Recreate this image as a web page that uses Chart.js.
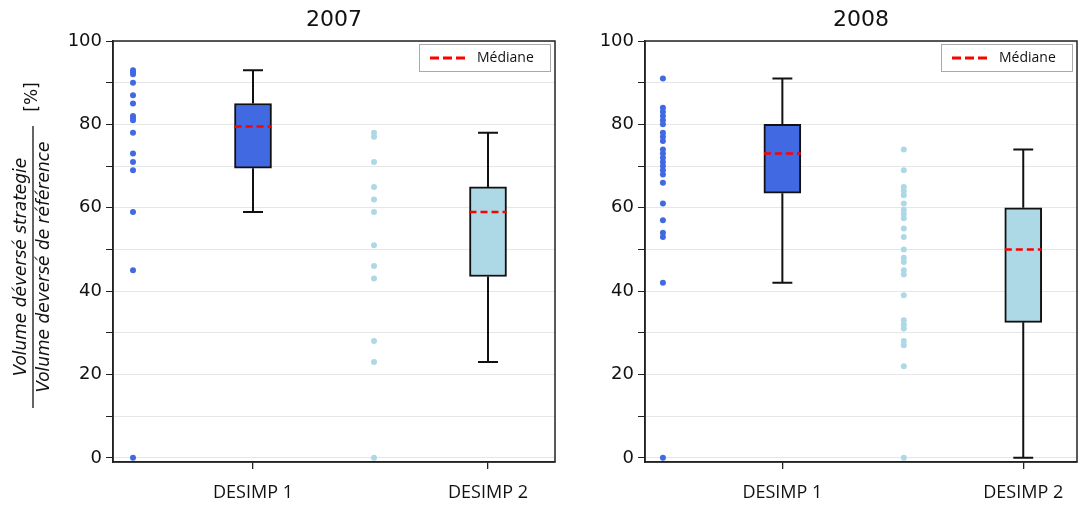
<!DOCTYPE html>
<html>
<head>
<meta charset="utf-8">
<script src="https://cdn.jsdelivr.net/npm/chart.js@4/dist/chart.umd.min.js"></script>
<style>
  html, body { margin: 0; padding: 0; background: #fff; }
  #wrap { position: relative; width: 1081px; height: 507px; }
  .pane { position: absolute; top: 0; }
</style>
</head>
<body>
<div id="wrap">
  <div class="pane" style="left:0"><canvas id="c2007" width="560" height="507"></canvas></div>
  <div class="pane" style="left:560px"><canvas id="c2008" width="521" height="507"></canvas></div>
</div>
<script>
// ==== DATA ====
const CATEGORIES = ['DESIMP 1', 'DESIMP 2'];
const Y_TICKS = [0, 10, 20, 30, 40, 50, 60, 70, 80, 90, 100];
const LEGEND_LABEL = 'Médiane';

// individual points
const pts2007D1 = [93, 92.5, 92, 90, 87, 85, 82, 81.5, 81, 78, 73, 71, 69, 59, 45, 0];
const pts2007D2 = [78, 77, 71, 65, 62, 59, 51, 46, 43, 28, 23, 0];
const pts2008D1 = [91, 84, 83, 82, 81, 80, 78, 77, 76, 74, 73, 72, 71, 70, 69, 68, 66, 61, 57, 54, 53, 42, 0];
const pts2008D2 = [74, 69, 65, 64, 63, 61, 59.5, 58.5, 57.5, 55, 53, 50, 48, 47, 45, 44, 39, 33, 32, 31, 28, 27, 22, 0];

// boxes: whisker low, q1, median, q3, whisker high
const box2007D1 = [59, 69.5, 79.5, 85, 93];
const box2007D2 = [23, 43.5, 59, 65, 78];
const box2008D1 = [42, 63.5, 73, 80, 91];
const box2008D2 = [0, 32.5, 50, 60, 74];

// colours
const C_D1 = '#4169E1';
const C_D2 = '#ADD8E6';
const C_MED = '#FF0000';

// Plugin : frame, title, legend, y label
const decor = {
  id: 'decor',
  afterDatasetsDraw(chart) {
    const a = chart.chartArea, ctx = chart.ctx;
    ctx.save();
    ctx.strokeStyle = '#222';
    ctx.lineWidth = 1.5;
    ctx.strokeRect(a.left, a.top, a.right - a.left, a.bottom - a.top);
    ctx.restore();
  },
  afterDraw(chart, args, o) {
    const a = chart.chartArea, ctx = chart.ctx;
    ctx.save();
    // title
    ctx.fillStyle = '#111';
    ctx.font = '22px "DejaVu Sans"';
    ctx.textAlign = 'center';
    ctx.textBaseline = 'middle';
    ctx.fillText(o.title, (a.left + a.right) / 2, 20);

    // legend box
    const w = 131, h = 27, bx = a.right - 5 - w, by = a.top + 3;
    ctx.fillStyle = '#fff';
    ctx.fillRect(bx, by, w, h);
    ctx.strokeStyle = '#aaa';
    ctx.lineWidth = 1;
    ctx.strokeRect(bx + 0.5, by + 0.5, w, h);
    ctx.strokeStyle = C_MED;
    ctx.lineWidth = 3;
    ctx.setLineDash([9, 4]);
    ctx.beginPath();
    ctx.moveTo(bx + 11, by + h / 2 + 0.5);
    ctx.lineTo(bx + 49, by + h / 2 + 0.5);
    ctx.stroke();
    ctx.setLineDash([]);
    ctx.fillStyle = '#111';
    ctx.font = '14px "Open Sans"';
    ctx.textAlign = 'left';
    ctx.fillText(LEGEND_LABEL, bx + 58, by + h / 2 + 1);

    // y label (fraction)
    if (o.ylabel) {
      ctx.translate(33, 267);
      ctx.rotate(-Math.PI / 2);
      ctx.fillStyle = '#111';
      ctx.font = 'italic 17px "DejaVu Sans"';
      ctx.textAlign = 'center';
      ctx.textBaseline = 'bottom';
      ctx.fillText('Volume déversé strategie', 0, -3);
      ctx.textBaseline = 'top';
      ctx.fillText('Volume deversé de référence', 0, 3);
      ctx.strokeStyle = '#111';
      ctx.lineWidth = 1.3;
      ctx.beginPath();
      ctx.moveTo(-141, 0);
      ctx.lineTo(141, 0);
      ctx.stroke();
      ctx.font = '17px "DejaVu Sans"';
      ctx.textBaseline = 'middle';
      ctx.fillText('[%]', 170, 0);
    }
    ctx.restore();
  }
};

function buildChart(id, cfg) {
  const unit = cfg.unit;           // px per x unit
  const cap = 10 / unit, half = 18.5 / unit;
  const boxes = [cfg.box1, cfg.box2];

  const whiskers = [], medians = [];
  boxes.forEach((b, i) => {
    const x = i + 1;
    whiskers.push({x, y: b[3]}, {x, y: b[4]}, {x, y: null});
    whiskers.push({x, y: b[1]}, {x, y: b[0]}, {x, y: null});
    whiskers.push({x: x - cap, y: b[4]}, {x: x + cap, y: b[4]}, {x, y: null});
    whiskers.push({x: x - cap, y: b[0]}, {x: x + cap, y: b[0]}, {x, y: null});
    medians.push({x: x - half, y: b[2]}, {x: x + half, y: b[2]}, {x, y: null});
  });

  return new Chart(document.getElementById(id), {
    type: 'scatter',
    data: {
      datasets: [
        { type: 'scatter', data: cfg.pts1.map(v => ({x: cfg.sx1, y: v})),
          backgroundColor: C_D1, borderWidth: 0, pointRadius: 3, order: 4 },
        { type: 'scatter', data: cfg.pts2.map(v => ({x: cfg.sx2, y: v})),
          backgroundColor: C_D2, borderWidth: 0, pointRadius: 3, order: 4 },
        { type: 'line', data: whiskers, borderColor: '#111', borderWidth: 2,
          pointRadius: 0, spanGaps: false, fill: false, order: 3 },
        { type: 'bar', data: boxes.map((b, i) => ({x: i + 1, y: [b[1], b[3]]})),
          backgroundColor: [C_D1, C_D2], borderColor: '#111', borderWidth: 2,
          borderSkipped: false, barThickness: 37, grouped: false, order: 2 },
        { type: 'line', data: medians, borderColor: C_MED, borderWidth: 2.5,
          borderDash: [7, 4], pointRadius: 0, spanGaps: false, fill: false, order: 1 }
      ]
    },
    options: {
      responsive: false,
      animation: false,
      layout: { padding: { top: 41, right: cfg.padRight, left: 0, bottom: 0 } },
      plugins: {
        legend: { display: false },
        tooltip: { enabled: false },
        decor: { title: cfg.title, ylabel: cfg.ylabel }
      },
      scales: {
        x: {
          type: 'linear', min: cfg.xmin, max: cfg.xmax, offset: false,
          afterBuildTicks: s => { s.ticks = [{value: 1}, {value: 2}]; },
          afterFit: s => { s.height = 45; },
          ticks: { callback: v => CATEGORIES[v - 1], color: '#111',
                   font: { family: 'Open Sans', size: 18 }, padding: 13 },
          grid: { offset: false, drawOnChartArea: false, tickLength: 7, tickColor: '#222', lineWidth: 1.3 },
          border: { color: '#222', width: 1.5 }
        },
        y: {
          min: -1, max: 100,
          afterBuildTicks: s => { s.ticks = Y_TICKS.map(v => ({value: v})); },
          afterFit: s => { s.width = cfg.yWidth; },
          ticks: { callback: v => (v % 20 === 0 ? v : ''), color: '#111',
                   font: { family: 'DejaVu Sans', size: 18 }, padding: 4 },
          grid: { color: '#e6e6e6', lineWidth: 1, tickLength: 7, tickColor: '#222' },
          border: { color: '#222', width: 1.5 }
        }
      }
    },
    plugins: [decor]
  });
}

buildChart('c2007', {
  title: '2007', ylabel: true,
  pts1: pts2007D1, pts2: pts2007D2, box1: box2007D1, box2: box2007D2,
  unit: 235, xmin: 1 - 140 / 235, xmax: 2 + 67 / 235,
  sx1: 1 - 120 / 235, sx2: 1 + 121 / 235,
  yWidth: 113, padRight: 5
});

buildChart('c2008', {
  title: '2008', ylabel: false,
  pts1: pts2008D1, pts2: pts2008D2, box1: box2008D1, box2: box2008D2,
  unit: 242, xmin: 1 - 138 / 242, xmax: 2 + 54 / 242,
  sx1: 1 - 120 / 242, sx2: 1 + 122 / 242,
  yWidth: 85, padRight: 2
});
</script>
</body>
</html>
